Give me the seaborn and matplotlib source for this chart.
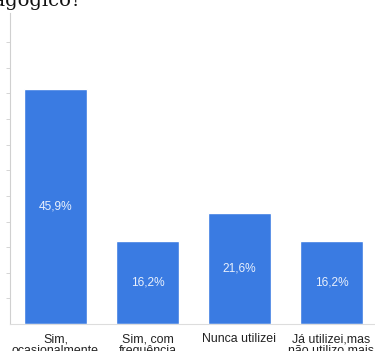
import matplotlib
matplotlib.use("Agg")
import matplotlib.pyplot as plt
import seaborn as sns
import pandas as pd
import numpy as np

categories = ["Sim,\nocasionalmente", "Sim, com\nfrequência", "Nunca utilizei", "Já utilizei,mas\nnão utilizo mais"]
percentages = [45.9, 16.2, 21.6, 16.2]
value_labels = ["45,9%", "16,2%", "21,6%", "16,2%"]
question_tail = "pedagógico?"

sns.set_theme(style="white")
plt.rcParams["font.family"] = ["Liberation Sans", "DejaVu Sans"]

df = pd.DataFrame({"resposta": categories, "pct": percentages})

fig = plt.figure(figsize=(3.75, 3.51), dpi=100)
ax = fig.add_axes([9.5 / 375, 27 / 351, 368 / 375, 311 / 351])

bar_color = "#3a7be2"
sns.barplot(data=df, x="resposta", y="pct", color=bar_color, saturation=1,
            width=0.69, ax=ax)

ax.set_xlim(-0.5, 3.5)
ax.set_ylim(0, 60.7)
ax.set_xlabel("")
ax.set_ylabel("")

# value labels centred inside each bar
for patch, txt in zip(ax.patches, value_labels):
    cx = patch.get_x() + patch.get_width() / 2
    cy = patch.get_height() / 2
    ax.text(cx, cy, txt, ha="center", va="center", color="#e9f0fc", fontsize=8.6)

ax.set_yticks(np.arange(5, 56, 5))
ax.set_yticklabels([])
ax.tick_params(axis="y", length=3, width=0.6, color="#cfcfcf", left=True, pad=0)
ax.tick_params(axis="x", length=0, labelsize=8.9, labelcolor="#222222", pad=6.5)
ax.set_xticks(range(len(categories)))
ax.set_xticklabels(categories, linespacing=1.0)

for side in ["top", "right"]:
    ax.spines[side].set_visible(False)
ax.spines["left"].set_color("#d0d0d0")
ax.spines["left"].set_linewidth(0.8)
ax.spines["bottom"].set_color("#dddddd")
ax.spines["bottom"].set_linewidth(0.8)

fig.text(82 / 375, 1 - 5.5 / 351, question_tail, ha="right", va="baseline",
         fontsize=14, family=["DejaVu Serif"], color="#111111")

fig.savefig("out.png", dpi=100)
